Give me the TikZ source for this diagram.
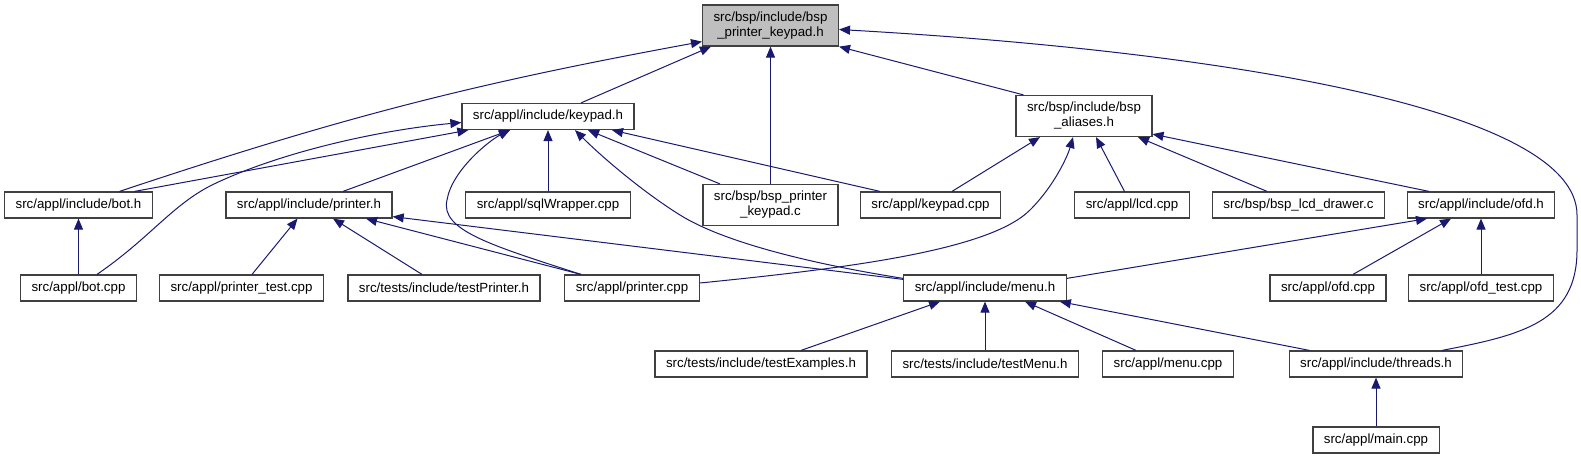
\documentclass[tikz,border=0pt]{standalone}
\usepackage{fontspec}
\setmainfont{Liberation Sans}
\usetikzlibrary{arrows.meta}
\definecolor{edgeblue}{RGB}{25,25,112}
\definecolor{boxgray}{RGB}{64,64,64}
\definecolor{rootfill}{RGB}{191,191,191}
\begin{document}
\begin{tikzpicture}[x=1pt,y=-1pt,
  file/.style={draw=boxgray,line width=1.2pt,fill=white,inner xsep=11pt,inner ysep=0pt,
    minimum height=26pt,font=\fontsize{13.3}{15}\selectfont},
  twoline/.style={file,align=center,minimum height=41pt},
  inc/.style={edgeblue,line width=1pt,-{Triangle[length=11pt,width=9pt]}}]
\useasboundingbox (0,0) rectangle (1581,455);
\node[twoline,fill=rootfill] (root) at (770.5,25.5) {src/bsp/include/bsp\\\_printer\_keypad.h};
\node[file] (keypadh) at (548,116.5) {src/appl/include/keypad.h};
\node[twoline] (aliasesh) at (1084,116) {src/bsp/include/bsp\\\_aliases.h};
\node[file] (both) at (78.5,205) {src/appl/include/bot.h};
\node[file] (printerh) at (309,205) {src/appl/include/printer.h};
\node[file] (sqlwrapper) at (548,205) {src/appl/sqlWrapper.cpp};
\node[twoline] (bspkeypad) at (770.5,205) {src/bsp/bsp\_printer\\\_keypad.c};
\node[file] (keypadcpp) at (930.5,205) {src/appl/keypad.cpp};
\node[file] (lcdcpp) at (1132,205) {src/appl/lcd.cpp};
\node[file] (lcddrawer) at (1298.5,205) {src/bsp/bsp\_lcd\_drawer.c};
\node[file] (ofdh) at (1481,205) {src/appl/include/ofd.h};
\node[file] (botcpp) at (78.5,288) {src/appl/bot.cpp};
\node[file] (printertest) at (241.5,288) {src/appl/printer\_test.cpp};
\node[file] (testprinter) at (444,288) {src/tests/include/testPrinter.h};
\node[file] (printercpp) at (632,288) {src/appl/printer.cpp};
\node[file] (menuh) at (985,288) {src/appl/include/menu.h};
\node[file] (ofdcpp) at (1328,288) {src/appl/ofd.cpp};
\node[file] (ofdtest) at (1481,288) {src/appl/ofd\_test.cpp};
\node[file] (testexamples) at (761,364) {src/tests/include/testExamples.h};
\node[file] (testmenu) at (985,364) {src/tests/include/testMenu.h};
\node[file] (menucpp) at (1168,364) {src/appl/menu.cpp};
\node[file] (threadsh) at (1376,364) {src/appl/include/threads.h};
\node[file] (maincpp) at (1376,440) {src/appl/main.cpp};
% straight up
\foreach \s/\t in {bspkeypad/root,sqlwrapper/keypadh,botcpp/both,ofdtest/ofdh,testmenu/menuh,maincpp/threadsh}
  \draw[inc] (\s.north) -- (\t.south);
% into the root
\draw[inc] ([xshift=41pt]both.north) to[bend left=4] ([yshift=5pt]root.south west);
\draw[inc] ([xshift=33pt]keypadh.north) -- ([xshift=9pt]root.south west);
\draw[inc] ([xshift=8pt]aliasesh.north west) -- (root.south east);
\draw[inc] ([xshift=66pt]threadsh.north) .. controls (1522,335) and (1577,322) .. (1577,250)
  -- (1577,215) .. controls (1577,105) and (1200,50) .. ([yshift=-4pt]root.east);
% keypad.h
\draw[inc] ([xshift=18.5pt]botcpp.north) .. controls (150,238) and (172,205) .. (212,185)
  .. controls (280,152) and (380,130) .. ([yshift=-6pt]keypadh.west);
\draw[inc] ([xshift=56pt]both.north) -- ([xshift=7pt]keypadh.south west);
\draw[inc] ([xshift=34pt]printerh.north) -- ([xshift=-38pt]keypadh.south);
\draw[inc] ([xshift=-51pt]printercpp.north) .. controls (490,245) and (440,230) .. (447,200)
  .. controls (452,170) and (490,140) .. ([xshift=-38pt]keypadh.south);
\draw[inc] ([yshift=-4pt]menuh.north west) .. controls (800,262) and (720,240) .. (680,215)
  .. controls (640,190) and (600,155) .. ([xshift=27pt]keypadh.south);
\draw[inc] ([xshift=-50.5pt]bspkeypad.north) -- ([xshift=40pt]keypadh.south);
\draw[inc] ([xshift=-50.5pt]keypadcpp.north) -- ([xshift=64pt]keypadh.south);
% aliases.h
\draw[inc] ([xshift=21.5pt]keypadcpp.north) -- ([xshift=-44pt]aliasesh.south);
\draw[inc] ([yshift=5pt]printercpp.east) .. controls (850,268) and (990,250) .. (1030,210)
  .. controls (1055,185) and (1068,155) .. ([xshift=-11pt]aliasesh.south);
\draw[inc] ([xshift=-7.5pt]lcdcpp.north) -- ([xshift=12pt]aliasesh.south);
\draw[inc] ([xshift=-31.5pt]lcddrawer.north) -- ([xshift=54pt]aliasesh.south);
\draw[inc] ([xshift=-52pt]ofdh.north) -- ([yshift=3pt]aliasesh.south east);
% printer.h
\draw[inc] ([xshift=10.5pt]printertest.north) -- ([xshift=-11.5pt]printerh.south);
\draw[inc] ([xshift=-22pt]testprinter.north) -- ([xshift=24pt]printerh.south);
\draw[inc] ([xshift=-51pt]printercpp.north) -- ([xshift=57pt]printerh.south);
\draw[inc] ([yshift=-5pt]menuh.north west) -- ([yshift=2pt]printerh.south east);
% ofd.h
\draw[inc] ([yshift=-4pt]menuh.north east) -- ([xshift=-54pt]ofdh.south);
\draw[inc] ([xshift=25pt]ofdcpp.north) -- ([xshift=-30pt]ofdh.south);
% menu.h
\draw[inc] ([xshift=40pt]testexamples.north) -- ([xshift=-45pt]menuh.south);
\draw[inc] ([xshift=-32pt]menucpp.north) -- ([xshift=40pt]menuh.south);
\draw[inc] ([xshift=-66.5pt]threadsh.north) -- ([xshift=-7pt]menuh.south east);
\end{tikzpicture}
\end{document}
